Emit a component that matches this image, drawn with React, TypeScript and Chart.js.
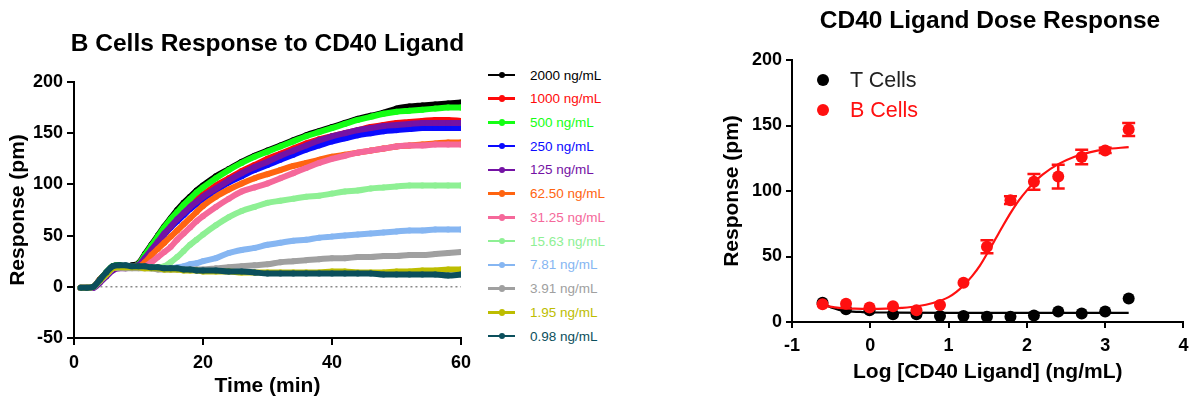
import React, { useEffect, useRef } from 'react';
import { Chart, registerables } from 'chart.js';

Chart.register(...registerables);

const FONT = '"Liberation Sans", Arial, Helvetica, sans-serif';

// ---------- Left chart: B cells response over time ----------
const TIME = [1, 2, 3, 4, 5, 6, 7, 8, 9, 10, 11, 12, 13, 14, 15, 16, 17, 18, 19, 20, 22, 24, 26, 28, 30, 32, 34, 36, 38, 40, 42, 44, 46, 48, 50, 52, 54, 56, 58, 60];

const SERIES_LABELS = ['2000 ng/mL', '1000 ng/mL', '500 ng/mL', '250 ng/mL', '125 ng/mL', '62.50 ng/mL', '31.25 ng/mL', '15.63 ng/mL', '7.81 ng/mL', '3.91 ng/mL', '1.95 ng/mL', '0.98 ng/mL'];
const SERIES_COLORS = ['#000000', '#ff0a0a', '#14ff14', '#0a0aff', '#7412a4', '#ff6410', '#f5689a', '#8ef094', '#86b6f2', '#a0a0a0', '#bdbd00', '#0b4f5c'];

const R2000 = [-1, -1, 0, 7, 14, 20, 21, 20, 21, 23, 32, 41, 50, 59, 67, 75, 82, 88, 94, 99, 108, 115, 122, 128, 133, 138, 143, 148, 152, 156, 160, 164, 167, 170, 174, 176, 177, 178, 179, 180];
const R1000 = [-1, -1, 0, 7, 13, 19, 20, 20, 20, 22, 30, 38, 46, 54, 62, 69, 75, 81, 86, 90, 99, 106, 113, 119, 125, 130, 135, 140, 144, 147, 150, 153, 156, 158, 160, 161, 162, 163, 163, 162];
const R500 = [-1, -1, 0, 7, 14, 20, 21, 20, 20, 22, 31, 40, 49, 58, 66, 73, 80, 86, 92, 97, 106, 114, 121, 127, 132, 137, 142, 147, 151, 155, 159, 163, 166, 169, 171, 172, 173, 174, 175, 175];
const R250 = [-1, -1, 0, 6, 13, 19, 20, 20, 20, 21, 28, 35, 43, 51, 58, 64, 70, 76, 81, 86, 94, 102, 108, 114, 119, 124, 129, 134, 138, 142, 145, 148, 150, 152, 153, 154, 155, 155, 155, 155];
const R125 = [-1, -1, -1, 4, 10, 16, 18, 18, 19, 21, 28, 36, 44, 52, 59, 66, 72, 78, 83, 88, 96, 104, 111, 117, 122, 128, 133, 138, 143, 147, 150, 153, 155, 157, 158, 159, 160, 160, 160, 160];
const R62 = [-1, -1, 0, 7, 13, 19, 20, 20, 20, 20, 24, 31, 37, 43, 49, 55, 61, 67, 73, 79, 88, 95, 101, 106, 110, 114, 118, 121, 124, 127, 129, 131, 133, 135, 137, 138, 139, 140, 141, 141];
const R31 = [-1, -1, 0, 6, 12, 18, 19, 19, 19, 19, 20, 24, 29, 34, 39, 46, 52, 58, 64, 69, 78, 86, 93, 97, 101, 106, 111, 116, 121, 125, 128, 131, 133, 135, 137, 138, 138, 139, 139, 139];
const R15 = [-1, -1, 0, 6, 12, 18, 19, 19, 19, 19, 19, 19, 19, 20, 24, 29, 35, 41, 46, 51, 60, 68, 74, 78, 82, 84, 86, 88, 89, 91, 93, 94, 96, 97, 98, 99, 99, 99, 99, 99];
const R7 = [-1, -1, 0, 6, 12, 18, 19, 19, 19, 19, 19, 18, 18, 18, 18, 19, 20, 22, 23, 25, 28, 33, 36, 38, 41, 43, 45, 46, 48, 49, 50, 51, 52, 53, 54, 55, 55, 56, 56, 56];
const R3 = [-1, -1, 0, 6, 12, 18, 19, 18, 18, 18, 18, 18, 17, 17, 17, 17, 17, 17, 17, 17, 18, 19, 20, 21, 22, 24, 25, 26, 27, 28, 28, 29, 29, 30, 30, 31, 31, 32, 33, 34];
const R1 = [-1, -1, 0, 6, 12, 18, 19, 19, 19, 19, 18, 18, 18, 17, 17, 17, 16, 16, 16, 15, 15, 15, 14, 14, 14, 14, 14, 14, 14, 15, 15, 14, 14, 14, 15, 15, 16, 16, 17, 17];
const R0 = [-1, -1, 0, 7, 14, 20, 21, 21, 20, 20, 20, 19, 19, 18, 18, 18, 17, 17, 16, 16, 16, 15, 15, 14, 13, 13, 13, 13, 13, 13, 13, 13, 13, 12, 12, 12, 12, 12, 11, 12];

const SERIES_VALUES = [R2000, R1000, R500, R250, R125, R62, R31, R15, R7, R3, R1, R0];

const ZERO_LINE_X = [1, 60];
const ZERO_LINE_Y = [0, 0];

const TIME_TICKS = [0, 20, 40, 60];
const RESPONSE_TICKS = [-50, 0, 50, 100, 150, 200];

// ---------- Right chart: dose response ----------
const LOG_DOSE = [-0.61, -0.31, -0.01, 0.29, 0.59, 0.89, 1.19, 1.49, 1.79, 2.09, 2.4, 2.7, 3.0, 3.3];
const T_RESP = [14.7, 9.7, 9, 6, 6, 4.5, 4.5, 4, 4, 5, 8, 6.5, 8, 18];
const B_RESP = [13.5, 14, 11, 12, 9, 13, 30, 57.5, 93, 107, 111, 126, 131, 147];
const B_ERR = [1, 1, 1, 1, 1, 1, 1.5, 5, 3, 6, 9, 5.5, 2, 5];

const B_FIT_X = [-0.6, -0.4, -0.2, 0, 0.2, 0.4, 0.6, 0.8, 1.0, 1.1, 1.2, 1.3, 1.4, 1.5, 1.6, 1.7, 1.8, 1.9, 2.0, 2.1, 2.2, 2.4, 2.6, 2.8, 3.0, 3.3];
const B_FIT_Y = [12.5, 10.8, 10.2, 10, 10.2, 10.8, 12, 14.5, 19, 23, 28.5, 35, 43, 53, 63.5, 74, 84, 93, 100.5, 107, 112.5, 120.5, 126, 129.5, 131.8, 133.5];
const T_FIT_X = [-0.6, -0.5, -0.4, -0.3, -0.1, 0.3, 1, 2, 3.3];
const T_FIT_Y = [14, 11, 9.3, 8.3, 7.6, 7.2, 7, 7, 7];

const LOG_TICKS = [-1, 0, 1, 2, 3, 4];
const DOSE_RESP_TICKS = [0, 50, 100, 150, 200];

const RED = '#ff1010';

const xy = (xs: number[], ys: number[]) => xs.map((x, i) => ({ x, y: ys[i] }));

function axis(ticksArr: number[], min: number, max: number, extra: any) {
  return {
    type: 'linear',
    min,
    max,
    afterBuildTicks: (s: any) => {
      s.ticks = ticksArr.map((v) => ({ value: v }));
    },
    ticks: {
      font: { family: FONT, size: 18, weight: 'bold' },
      color: '#000',
      padding: extra.tickPadding,
      maxRotation: 0,
      autoSkip: false,
    },
    grid: {
      display: true,
      drawOnChartArea: false,
      drawTicks: true,
      tickLength: extra.tickLength,
      tickWidth: 2,
      tickColor: '#000',
      lineWidth: 2,
      color: '#000',
    },
    border: { display: true, color: '#000', width: 2 },
    title: {
      display: true,
      text: extra.title,
      font: { family: FONT, size: 21, weight: 'bold' },
      color: '#000',
      padding: extra.titlePadding,
    },
    afterFit: extra.afterFit,
  };
}

const errorBarPlugin = {
  id: 'errorBars',
  afterDatasetsDraw(chart: any) {
    const { ctx, scales } = chart;
    const x = scales.x;
    const y = scales.y;
    ctx.save();
    ctx.strokeStyle = RED;
    ctx.lineWidth = 2.5;
    LOG_DOSE.forEach((lx, i) => {
      const e = B_ERR[i];
      if (!e || e < 2) return;
      const px = x.getPixelForValue(lx);
      const top = y.getPixelForValue(B_RESP[i] + e);
      const bot = y.getPixelForValue(B_RESP[i] - e);
      ctx.beginPath();
      ctx.moveTo(px, top);
      ctx.lineTo(px, bot);
      ctx.moveTo(px - 6.5, top);
      ctx.lineTo(px + 6.5, top);
      ctx.moveTo(px - 6.5, bot);
      ctx.lineTo(px + 6.5, bot);
      ctx.stroke();
    });
    ctx.restore();
  },
};

export default function App() {
  const leftRef = useRef<HTMLCanvasElement | null>(null);
  const rightRef = useRef<HTMLCanvasElement | null>(null);

  useEffect(() => {
    const leftDatasets: any[] = SERIES_VALUES.map((vals, i) => ({
      label: SERIES_LABELS[i],
      data: xy(TIME, vals),
      borderColor: SERIES_COLORS[i],
      backgroundColor: SERIES_COLORS[i],
      borderWidth: 6,
      pointRadius: 3,
      pointBorderWidth: 0,
      cubicInterpolationMode: 'monotone',
      order: -i,
    }));
    leftDatasets.push({
      label: 'zero',
      data: xy(ZERO_LINE_X, ZERO_LINE_Y),
      borderColor: '#8a8a8a',
      borderWidth: 1.5,
      borderDash: [2, 3],
      pointRadius: 0,
      order: 100,
    });

    const left = new Chart(leftRef.current as HTMLCanvasElement, {
      type: 'line',
      data: { datasets: leftDatasets },
      options: {
        responsive: false,
        animation: false,
        devicePixelRatio: 1,
        events: [],
        layout: { padding: { top: 82, left: 0, right: 19, bottom: 0 } },
        plugins: { legend: { display: false }, tooltip: { enabled: false }, title: { display: false } },
        scales: {
          x: axis(TIME_TICKS, 0, 60, {
            tickPadding: 7,
            tickLength: 7,
            title: 'Time (min)',
            titlePadding: { top: 0, bottom: 2.4 },
            afterFit: (s: any) => {
              s.height = 63;
            },
          }),
          y: axis(RESPONSE_TICKS, -50, 200, {
            tickPadding: 4,
            tickLength: 7,
            title: 'Response (pm)',
            titlePadding: { top: 5.4, bottom: 0 },
            afterFit: (s: any) => {
              s.width = 74;
            },
          }),
        },
      } as any,
    });

    const right = new Chart(rightRef.current as HTMLCanvasElement, {
      type: 'scatter',
      data: {
        datasets: [
          {
            label: 'B Cells',
            data: xy(LOG_DOSE, B_RESP),
            backgroundColor: RED,
            borderColor: RED,
            pointRadius: 6,
            pointBorderWidth: 0,
            showLine: false,
            order: 0,
          },
          {
            label: 'B fit',
            data: xy(B_FIT_X, B_FIT_Y),
            borderColor: RED,
            borderWidth: 2.2,
            pointRadius: 0,
            showLine: true,
            cubicInterpolationMode: 'monotone',
            order: 1,
          },
          {
            label: 'T Cells',
            data: xy(LOG_DOSE, T_RESP),
            backgroundColor: '#000',
            borderColor: '#000',
            pointRadius: 6,
            pointBorderWidth: 0,
            showLine: false,
            order: 2,
          },
          {
            label: 'T fit',
            data: xy(T_FIT_X, T_FIT_Y),
            borderColor: '#000',
            borderWidth: 2.2,
            pointRadius: 0,
            showLine: true,
            cubicInterpolationMode: 'monotone',
            order: 3,
          },
        ],
      },
      options: {
        responsive: false,
        animation: false,
        devicePixelRatio: 1,
        events: [],
        layout: { padding: { top: 60, left: 0, right: 8, bottom: 0 } },
        plugins: { legend: { display: false }, tooltip: { enabled: false }, title: { display: false } },
        scales: {
          x: axis(LOG_TICKS, -1, 4, {
            tickPadding: 7.5,
            tickLength: 6,
            title: 'Log [CD40 Ligand] (ng/mL)',
            titlePadding: { top: 0, bottom: 16.4 },
            afterFit: (s: any) => {
              s.height = 79;
            },
          }),
          y: axis(DOSE_RESP_TICKS, 0, 200, {
            tickPadding: 4,
            tickLength: 6,
            title: 'Response (pm)',
            titlePadding: { top: 39.4, bottom: 0 },
            afterFit: (s: any) => {
              s.width = 112;
            },
          }),
        },
      } as any,
      plugins: [errorBarPlugin],
    });

    return () => {
      left.destroy();
      right.destroy();
    };
  }, []);

  const titleStyle: React.CSSProperties = {
    position: 'absolute',
    transform: 'translate(-50%, -50%)',
    whiteSpace: 'nowrap',
    fontFamily: FONT,
    fontWeight: 'bold',
    fontSize: 24.5,
    color: '#000',
    lineHeight: 1,
  };

  return (
    <div style={{ position: 'fixed', left: 0, top: 0, width: 1196, height: 401, background: '#fff', fontFamily: FONT, overflow: 'hidden' }}>
      <canvas ref={leftRef} width={480} height={401} style={{ position: 'absolute', left: 0, top: 0, width: 480, height: 401 }} />
      <div style={{ ...titleStyle, left: 267.5, top: 43 }}>B Cells Response to CD40 Ligand</div>
      {SERIES_LABELS.map((lab, i) => (
        <div
          key={lab}
          style={{ position: 'absolute', left: 488, top: 75 + i * 23.73 - 10, height: 20, display: 'flex', alignItems: 'center' }}
        >
          <div style={{ position: 'relative', width: 27, height: 2.5, background: SERIES_COLORS[i] }}>
            <div
              style={{ position: 'absolute', left: 10.5, top: -2, width: 6.5, height: 6.5, borderRadius: '50%', background: SERIES_COLORS[i] }}
            />
          </div>
          <span style={{ marginLeft: 15, fontSize: 13.5, color: SERIES_COLORS[i], whiteSpace: 'nowrap' }}>{lab}</span>
        </div>
      ))}

      <canvas ref={rightRef} width={516} height={401} style={{ position: 'absolute', left: 680, top: 0, width: 516, height: 401 }} />
      <div style={{ ...titleStyle, left: 990, top: 20 }}>CD40 Ligand Dose Response</div>
      {[
        { label: 'T Cells', color: '#000', text: '#222', y: 80 },
        { label: 'B Cells', color: RED, text: RED, y: 110 },
      ].map((it) => (
        <div key={it.label} style={{ position: 'absolute', left: 817, top: it.y - 13, height: 26, display: 'flex', alignItems: 'center' }}>
          <div style={{ width: 12, height: 12, borderRadius: '50%', background: it.color }} />
          <span style={{ marginLeft: 21, fontSize: 21.5, color: it.text, whiteSpace: 'nowrap' }}>{it.label}</span>
        </div>
      ))}
    </div>
  );
}
